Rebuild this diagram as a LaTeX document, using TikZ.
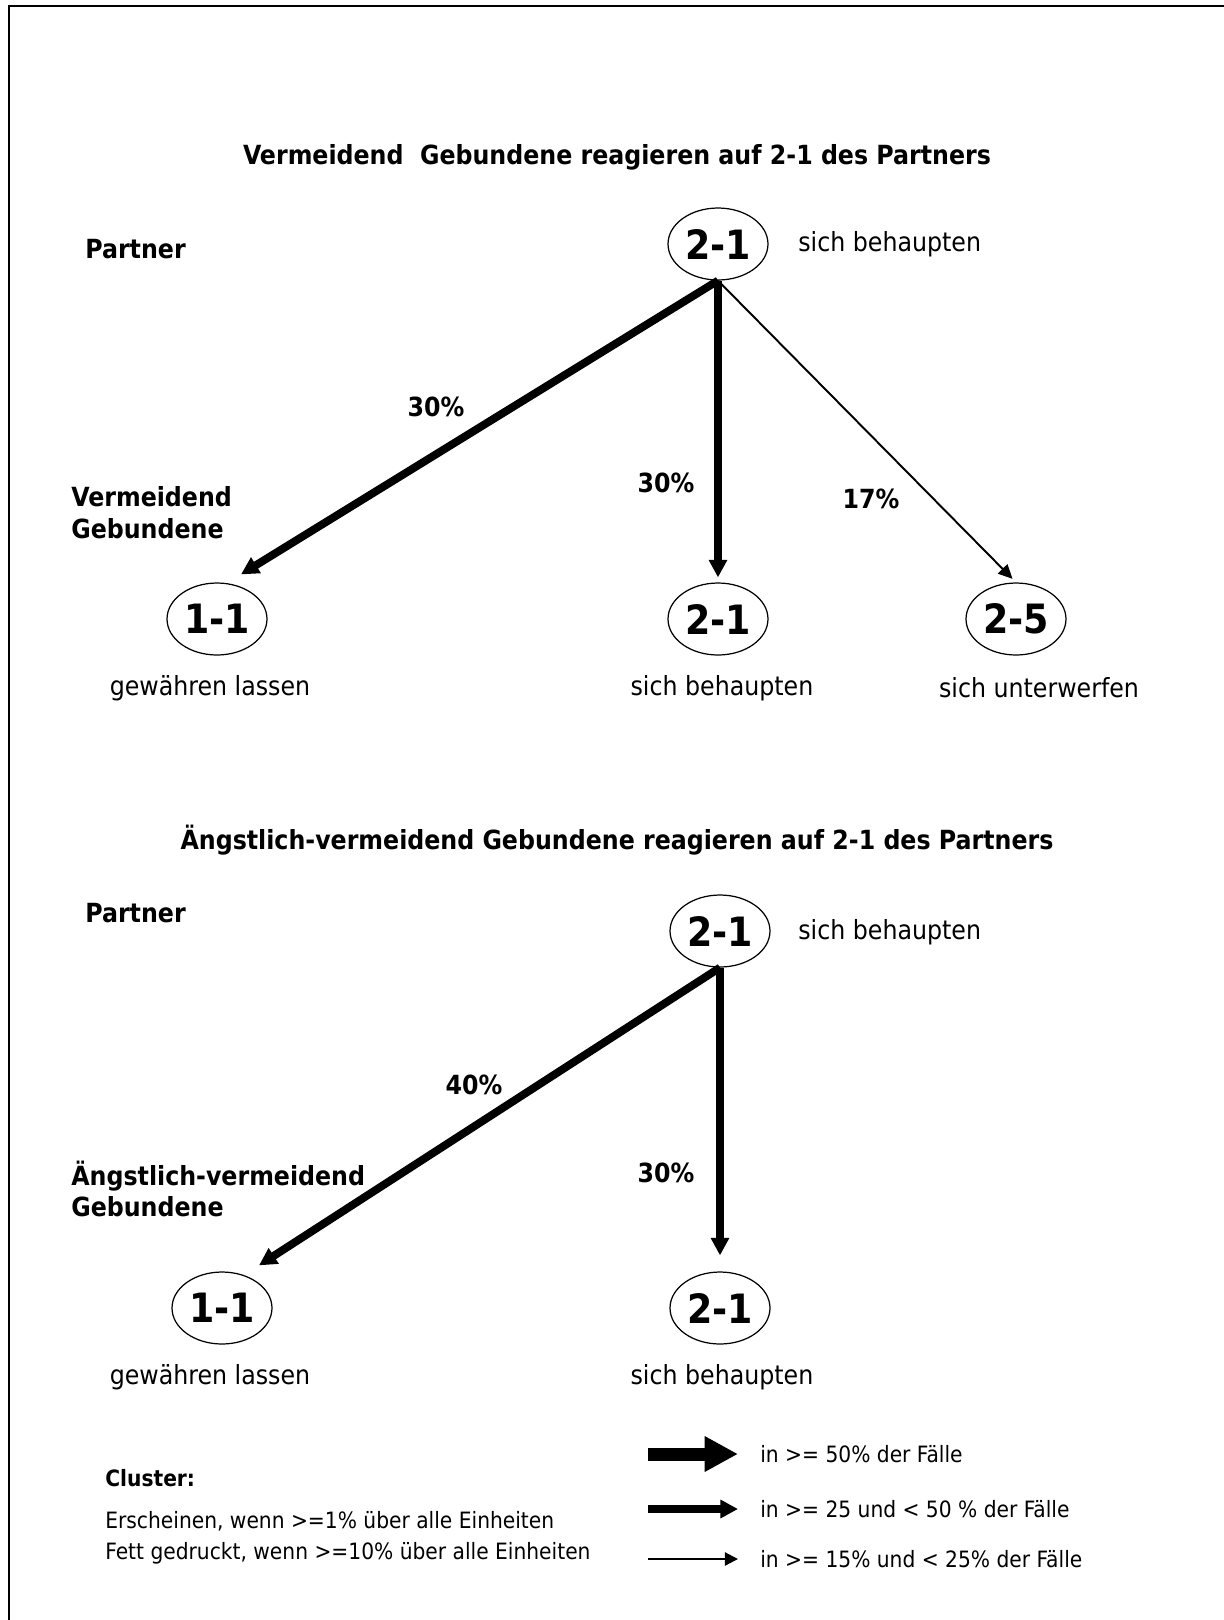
\documentclass[tikz,border=0pt]{standalone}
\usepackage{fontspec}
\setmainfont{DejaVu Sans Condensed}
\usetikzlibrary{arrows.meta,shapes.geometric}

\begin{document}
\begin{tikzpicture}[x=0.02cm, y=-0.02cm,
    every node/.style={inner sep=0pt},
    txt/.style={font=\fontsize{15}{18.1}\selectfont},
    bold/.style={font=\bfseries\fontsize{15}{18.1}\selectfont},
    small/.style={font=\fontsize{12.8}{15}\selectfont},
    act/.style={ellipse, draw, line width=0.7pt, minimum width=2cm,
      minimum height=1.44cm, font=\bfseries\fontsize{23}{26}\selectfont},
    strong/.style={line width=4.5pt, -{Triangle[length=10pt,width=10pt]}},
    weak/.style={line width=1.1pt, -{Triangle[length=8pt,width=7.5pt]}}]

  \useasboundingbox (0,0) rectangle (1224,1620);
  \draw[line width=1.7pt] (9,1620) -- (9,6) -- (1224,6);

  % first cluster
  \node[bold] (title1) at (617,157) {Vermeidend\ \ Gebundene reagieren auf 2-1 des Partners};
  \node[bold, anchor=west] (partner1) at (85,249) {Partner};
  \node[act] (p1) at (718,244) {2-1};
  \node[txt, anchor=west] (p1txt) at (798,244) {sich behaupten};
  \node[bold, anchor=west, align=left] (grp1) at (71,513) {Vermeidend\\Gebundene};

  \node[act] (a11) at (217,619) {1-1};
  \node[act] (a21) at (718,619) {2-1};
  \node[act] (a25) at (1016,619) {2-5};
  \node[txt] (a11txt) at (210,688) {gewähren lassen};
  \node[txt] (a21txt) at (722,688) {sich behaupten};
  \node[txt] (a25txt) at (1039,688) {sich unterwerfen};

  \draw[strong] (p1.south) -- ([shift={(24,-8)}]a11.north);
  \draw[strong, shorten >=0.1cm] (p1.south) -- (a21.north);
  \draw[weak, shorten >=0.1cm] (p1.south) -- (a25.north);

  \node[bold] (pc1) at (436,407) {30\%};
  \node[bold] (pc2) at (666,483) {30\%};
  \node[bold] (pc3) at (871,499) {17\%};

  % second cluster
  \node[bold] (title2) at (617,840) {Ängstlich-vermeidend Gebundene reagieren auf 2-1 des Partners};
  \node[bold, anchor=west] (partner2) at (85,913) {Partner};
  \node[act] (p2) at (720,931) {2-1};
  \node[txt, anchor=west] (p2txt) at (798,932) {sich behaupten};
  \node[bold, anchor=west, align=left] (grp2) at (71,1189) {Ängstlich-vermeidend\\Gebundene};

  \node[act] (b11) at (222,1308) {1-1};
  \node[act] (b21) at (720,1308) {2-1};
  \node[txt] (b11txt) at (210,1377) {gewähren lassen};
  \node[txt] (b21txt) at (722,1377) {sich behaupten};

  \draw[strong] (p2.south) -- ([shift={(37,-6)}]b11.north);
  \draw[strong, shorten >=0.32cm] (p2.south) -- (b21.north);

  \node[bold] (pc4) at (474,1085) {40\%};
  \node[bold] (pc5) at (666,1173) {30\%};

  % legend
  \node[small, anchor=west, font=\bfseries\fontsize{12.8}{15}\selectfont] (cl) at (105,1478) {Cluster:};
  \node[small, anchor=west] (cl1) at (105,1521) {Erscheinen, wenn >=1\% über alle Einheiten};
  \node[small, anchor=west] (cl2) at (105,1553) {Fett gedruckt, wenn >=10\% über alle Einheiten};

  \node[small, anchor=west] (lg1) at (760,1454) {in >= 50\% der Fälle};
  \node[small, anchor=west] (lg2) at (760,1509) {in >= 25 und < 50 \% der Fälle};
  \node[small, anchor=west] (lg3) at (760,1559) {in >= 15\% und < 25\% der Fälle};
  \coordinate (ls1) at (648,1454);
  \coordinate (ls2) at (648,1509);
  \coordinate (ls3) at (648,1559);
  \draw[line width=7.4pt, -{Triangle[length=19pt,width=19pt]}, shorten >=0.44cm] (ls1) -- (lg1.west);
  \draw[line width=5pt, -{Triangle[length=10pt,width=10pt]}, shorten >=0.44cm] (ls2) -- (lg2.west);
  \draw[line width=1.2pt, -{Triangle[length=7.5pt,width=7.5pt]}, shorten >=0.44cm] (ls3) -- (lg3.west);
\end{tikzpicture}
\end{document}
